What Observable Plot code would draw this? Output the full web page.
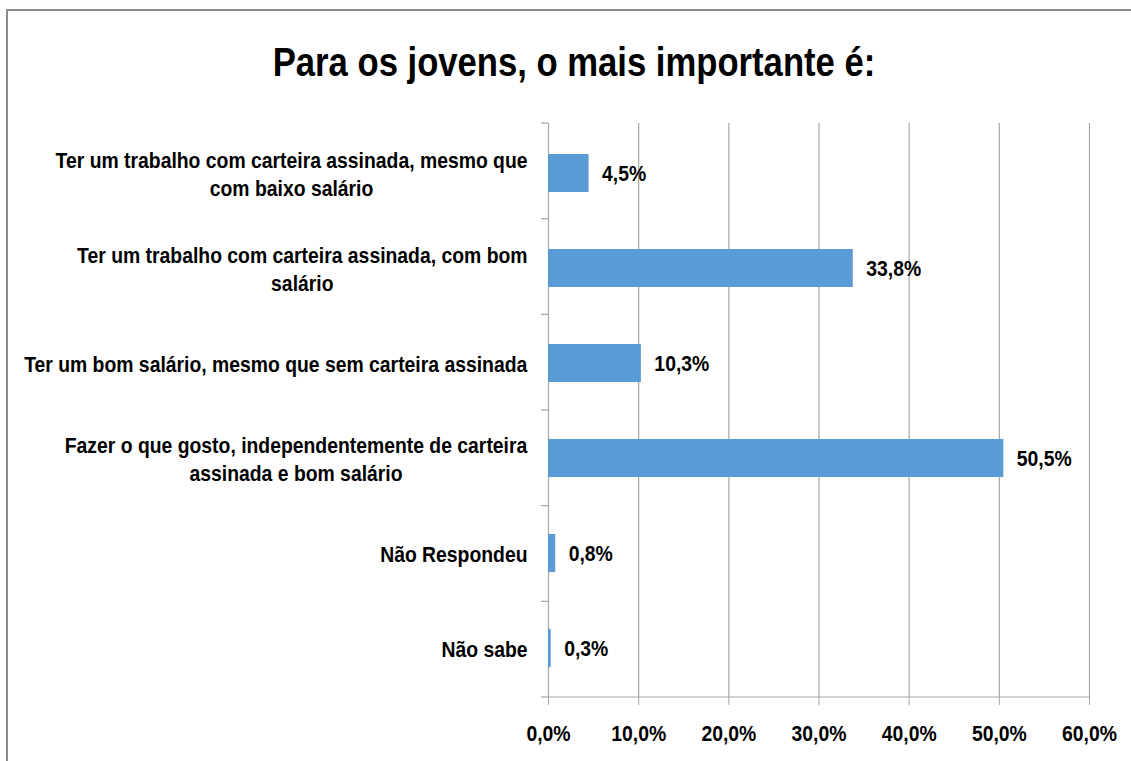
<!DOCTYPE html>
<html>
<head>
<meta charset="utf-8">
<script src="https://cdn.jsdelivr.net/npm/d3@7"></script>
<script src="https://cdn.jsdelivr.net/npm/@observablehq/plot@0.6"></script>
<style>
  html, body { margin: 0; padding: 0; background: #fff; }
  body { width: 1131px; height: 761px; overflow: hidden; position: relative;
         font-family: "Liberation Sans", Arial, sans-serif; }
  #frame { position: absolute; left: 6px; top: 9px; width: 1200px; height: 800px;
           border-top: 2px solid #8c8c8c; border-left: 2px solid #8c8c8c; pointer-events: none; }
  #title { position: absolute; left: 0; top: 38px; width: 1148px; text-align: center;
           font-size: 40px; font-weight: bold; line-height: 48px; color: #000;
           transform: scaleX(0.866); transform-origin: 574px 0; }
  #chart { position: absolute; left: 0; top: 100px; }
</style>
</head>
<body>
<div id="frame"></div>
<div id="title">Para os jovens, o mais importante é:</div>
<div id="chart"></div>
<script>
const categories = [
  "Ter um trabalho com carteira assinada, mesmo que\ncom baixo salário",
  "Ter um trabalho com carteira assinada, com bom\nsalário",
  "Ter um bom salário, mesmo que sem carteira assinada",
  "Fazer o que gosto, independentemente de carteira\nassinada e bom salário",
  "Não Respondeu",
  "Não sabe"
];
const values = [4.5, 33.8, 10.3, 50.5, 0.8, 0.3];
const xTicks = [0, 10, 20, 30, 40, 50, 60];

const fmt = v => v.toFixed(1).replace(".", ",") + "%";
const data = categories.map((c, i) => ({category: c, value: values[i]}));

const gray = "#a6a6a6";
const squeeze = 0.88; // narrow the glyphs to mimic the condensed original face
const plot = Plot.plot({
  width: 1131,
  height: 661,
  marginTop: 23,
  marginBottom: 64,
  marginLeft: 548,
  marginRight: 42,
  style: {fontFamily: "'Liberation Sans', Arial, sans-serif", fontWeight: "bold", fontSize: "22px", color: "#000", background: "transparent"},
  x: {domain: [0, 60]},
  y: {domain: categories, paddingInner: 0.6, paddingOuter: 0.3},
  marks: [
    Plot.gridX(xTicks, {stroke: gray, strokeOpacity: 1, strokeWidth: 1.2}),
    Plot.barX(data, {x: "value", y: "category", fill: "#5b9bd5"}),
    Plot.text(data, {x: "value", y: "category", text: d => fmt(d.value), textAnchor: "start", dx: 13, fill: "#000", fontSize: 22}),
    Plot.axisX(xTicks, {tickSize: 8, stroke: gray, strokeOpacity: 1, tickPadding: 20, tickFormat: fmt, label: null, fill: "#000", fontSize: 22}),
    Plot.axisY({tickSize: 0, tickPadding: 21, label: null, lineHeight: 1.27, fill: "#000", fontSize: 22})
  ]
});
document.getElementById("chart").appendChild(plot);

// Narrow every text around its own anchor point (numeric x/y moved into the transform; em offsets kept)
const isNum = s => s != null && /^-?[\d.]+$/.test(s.trim());
d3.select(plot).selectAll("text").each(function() {
  const xa = this.getAttribute("x"), ya = this.getAttribute("y");
  let x = 0, y = 0;
  if (isNum(xa)) { x = +xa; this.removeAttribute("x"); }
  if (isNum(ya)) { y = +ya; this.removeAttribute("y"); }
  const t = this.getAttribute("transform") || "";
  this.setAttribute("transform", `${t} translate(${x},${y}) scale(${squeeze},1)`);
});

// Center each multi-line category label within its own box (right-aligned to the axis), like the original
d3.select(plot).selectAll('g[aria-label="y-axis tick label"] text').each(function() {
  const w = this.getBBox().width;
  const t = this.getAttribute("transform") || "";
  d3.select(this).attr("text-anchor", "middle").attr("transform", t + ` translate(${-w / 2},0)`);
});

// Axis lines and category tick marks (between bands) from the scales
const ys = plot.scale("y"), xs = plot.scale("x");
const [r0, r1] = ys.range;
const n = ys.domain.length;
const step = (r1 - r0) / n;
const [x0, x1] = xs.range;
const g = d3.select(plot).append("g").attr("stroke", gray).attr("stroke-width", 1.2);
g.append("line").attr("x1", x0).attr("x2", x1).attr("y1", r1).attr("y2", r1);
for (let i = 0; i <= n; i++) {
  g.append("line").attr("x1", x0 - 7).attr("x2", x0).attr("y1", r0 + i * step).attr("y2", r0 + i * step);
}
</script>
</body>
</html>
